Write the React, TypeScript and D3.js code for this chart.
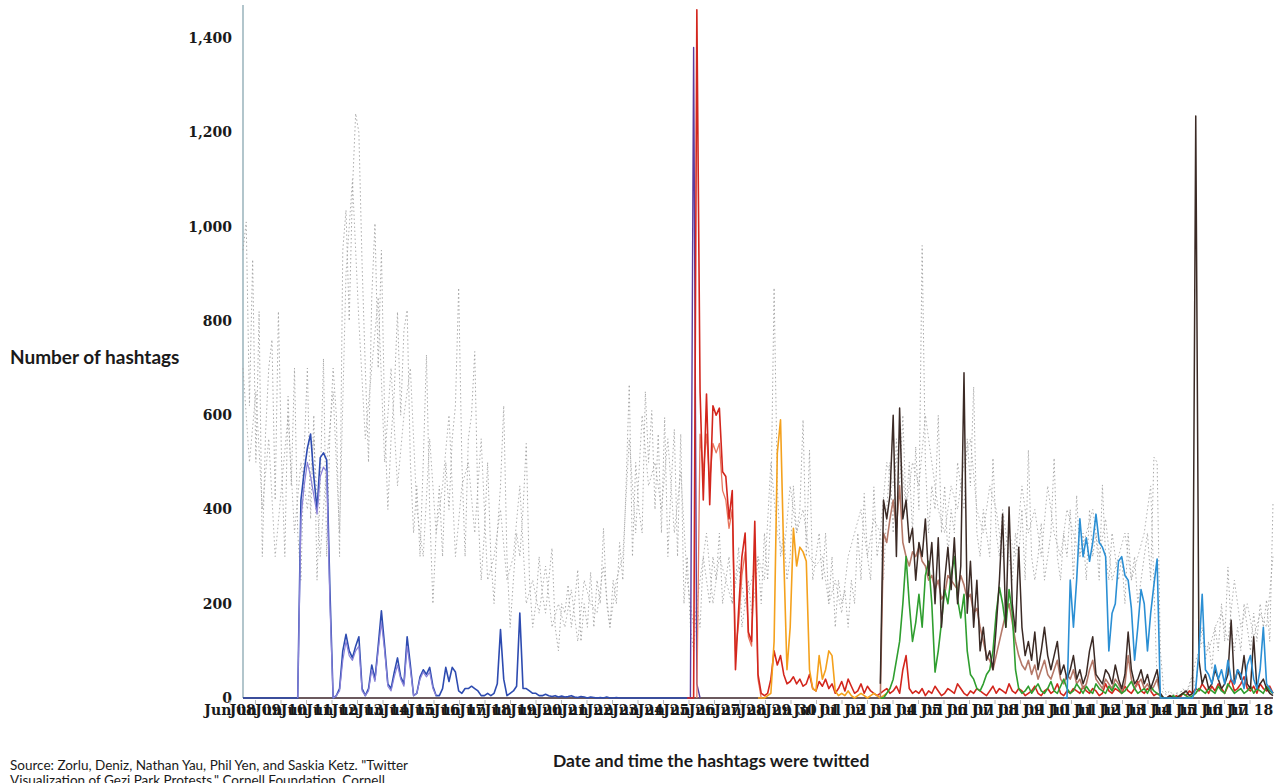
import React from "react";
import * as d3 from "d3";

const W = 1281;
const H = 783;

// x positions are 3-hour steps from Jun 08 00:00 (0) to Jul 18 00:00 (320)
const STEPS = 320;

const dayLabels = [
  "Jun 08", "Jun 09", "Jun 10", "Jun 11", "Jun 12", "Jun 13", "Jun 14", "Jun 15",
  "Jun 16", "Jun 17", "Jun 18", "Jun 19", "Jun 20", "Jun 21", "Jun 22", "Jun 23",
  "Jun 24", "Jun 25", "Jun 26", "Jun 27", "Jun 28", "Jun 29", "Jun 30", "Jul 01",
  "Jul 02", "Jul 03", "Jul 04", "Jul 05", "Jul 06", "Jul 07", "Jul 08", "Jul 09",
  "Jul 10", "Jul 11", "Jul 12", "Jul 13", "Jul 14", "Jul 15", "Jul 16", "Jul 17", "Jul 18",
];

const yTicks = [0, 200, 400, 600, 800, 1000, 1200, 1400];

// background hashtags (grey dotted), 3-hour steps
const grayA = [
  950, 1010, 620, 930, 500, 820, 300, 560, 700, 760,
  420, 820, 500, 300, 640, 450, 700, 350, 250, 520,
  700, 380, 600, 250, 450, 720, 300, 560, 700, 600,
  300, 950, 1035, 800, 1078, 1240, 1200, 920, 700, 500,
  850, 1007, 700, 950, 600, 400, 550, 650, 819, 600,
  780, 823, 500, 350, 450, 300, 500, 728, 400, 200,
  350, 450, 300, 500, 400, 550, 620, 870, 500, 300,
  550, 600, 735, 400, 250, 350, 500, 300, 200, 350,
  450, 620, 300, 150, 250, 350, 300, 400, 540, 250,
  150, 200, 300, 220, 180, 250, 318, 150, 100, 200,
  180, 240, 150, 200, 272, 120, 200, 150, 267, 150,
  250, 200, 360, 200, 150, 250, 200, 330, 250, 450,
  665, 300, 500, 400, 350, 650, 500, 610, 400, 560,
  350, 595, 300, 450, 570, 300, 560, 200, 300, 150,
  100, 200, 150, 300, 250, 200, 300, 250, 350, 200,
  250, 300, 200, 250, 320, 150, 200, 250, 180, 220,
  300, 200, 350, 250, 400, 870, 450, 300, 350, 250,
  300, 450, 350, 400, 590, 300, 526, 250, 300, 350,
  250, 350, 200, 300, 150, 250, 200, 229, 150, 250,
  200, 350, 250, 434, 300, 250, 448, 300, 350, 250,
  400, 500, 350, 550, 450, 600, 400, 500, 350, 533,
  400, 960, 500, 350, 450, 400, 600, 350, 450, 300,
  400, 350, 500, 450, 400, 550, 450, 660, 350, 300,
  400, 350, 300, 509, 350, 300, 400, 350, 300, 250,
  350, 300, 400, 250, 526, 300, 250, 300, 371, 250,
  300, 350, 509, 300, 250, 350, 300, 400, 250, 430,
  300, 350, 250, 400, 300, 350, 250, 452, 300, 250,
  350, 300, 250, 300, 200, 350, 250, 300, 200, 250,
  300, 350, 250, 511, 500, 100, 20, 10, 15, 5,
  10, 5, 20, 10, 30, 50, 20, 100, 150, 80,
  120, 60, 150, 100, 200, 120, 278, 150, 100, 150,
  100, 200, 150, 100, 180, 120, 200, 150, 208, 120,
  413,
];

// second grey series, 6-hour steps
const grayB = [
  700, 500, 650, 400, 550, 300, 450, 600, 350, 500,
  400, 550, 300, 500, 650, 350, 900, 1100, 800, 550,
  700, 850, 500, 700, 450, 600, 700, 400, 300, 550,
  350, 450, 600, 300, 450, 500, 350, 550, 250, 300,
  400, 250, 300, 450, 200, 250, 180, 280, 150, 200,
  150, 230, 120, 250, 200, 180, 280, 150, 250, 300,
  550, 350, 600, 450, 500, 400, 550, 350, 480, 250,
  150, 250, 350, 200, 300, 250, 200, 280, 200, 250,
  300, 250, 500, 350, 300, 450, 350, 400, 300, 280,
  300, 200, 250, 180, 300, 350, 400, 300, 380, 350,
  500, 450, 550, 400, 500, 450, 600, 500, 400, 350,
  450, 400, 500, 550, 400, 350, 450, 400, 300, 350,
  300, 450, 350, 400, 300, 450, 350, 300, 400, 350,
  300, 350, 400, 300, 380, 250, 300, 350, 250, 300,
  350, 450, 30, 10, 5, 10, 15, 20, 80, 120,
  100, 150, 180, 120, 250, 150, 200, 130, 180, 150,
  300,
];

const blueStart = 0;
const blueVals = [
  0, 0, 0, 0, 0, 0, 0, 0, 0, 0,
  0, 0, 0, 0, 0, 0, 0, 0,
  420, 480, 530, 560, 470, 400, 510, 520, 505, 230, 0,
  5, 20, 100, 135, 100, 85, 110, 130, 20, 5, 20,
  70, 40, 110, 185, 110, 30, 20, 55, 85, 45,
  30, 130, 70, 5, 10, 45, 60, 50, 65, 25,
  5, 5, 20, 65, 35, 65, 55, 15, 10, 20,
  20, 25, 20, 15, 5, 5, 10, 5, 10, 30,
  145, 40, 5, 10, 15, 25, 180, 20, 20, 15,
  10, 10, 5, 5, 8, 5, 3, 5, 2, 4,
  2, 3, 5, 2, 1, 3, 2, 0, 2, 1,
  0, 1, 0, 2, 0, 0, 1, 0, 0, 0,
  0, 0, 0, 0, 0, 0, 0, 0, 0, 0,
  0, 0, 0, 0, 0, 0, 0, 0, 0, 0, 0,
];

const lavenderStart = 17;
const lavenderVals = [
  0, 380, 450, 500, 470, 430, 390, 470, 490, 480,
  200, 0, 5, 15, 80, 120, 90, 80, 100, 110,
  15, 5, 15, 60, 35, 100, 160, 100, 25, 15,
  45, 70, 40, 25, 110, 60, 5, 10, 40, 55,
  45, 55, 20, 5,
];

const purpleStart = 138;
const purpleVals = [0, 0, 1380, 30, 0];

const salmonStart = 141;
const salmonVals = [
  0, 560, 480, 560, 460, 540, 520, 540, 440, 420,
  360, 400, 100, 160, 260, 310, 130, 110, 320, 40, 0,
];

const redStart = 138;
const redVals = [
  0, 0, 0, 1460, 650, 420, 645, 410, 620, 600,
  615, 480, 470, 380, 440, 60, 190, 300, 350, 140,
  120, 375, 50, 10, 5, 10, 40, 100, 70, 90,
  50, 30, 35, 45, 30, 40, 25, 30, 50, 20,
  15, 35, 25, 40, 20, 30, 10, 20, 35, 15,
  40, 25, 10, 15, 30, 10, 25, 15, 10, 5,
  10, 15, 20, 10, 15, 25, 10, 60, 90, 20,
  10, 15, 10, 20, 5, 15, 10, 25, 15, 5,
  10, 20, 15, 10, 30, 20, 10, 5, 15, 10,
  20, 15, 10, 5, 15, 25, 10, 20, 15, 10,
  30, 15, 10, 20, 15, 5, 10, 15, 25, 10,
  5, 15, 20, 10, 15, 30, 10, 5, 15, 10,
  20, 15, 10, 25, 15, 10, 20, 15, 5, 10,
  30, 15, 10, 20, 15, 10, 25, 15, 10, 20,
  35, 15, 10, 20, 15, 5, 10, 5, 0, 0,
  5, 0, 5, 0, 10, 5, 15, 10, 20, 15,
  30, 20, 10, 25, 15, 30, 20, 10, 25, 40,
  15, 20, 30, 45, 20, 15, 25, 10, 30, 20,
  15, 25, 10,
];

const orangeStart = 160;
const orangeVals = [
  0, 0, 0, 5, 10, 120, 520, 590, 300, 60,
  150, 360, 280, 320, 310, 290, 60, 20, 15, 90,
  40, 60, 100, 90, 15, 5, 10, 5, 15, 5,
  0, 5, 10, 5, 0, 5, 10, 5, 0, 5, 10,
];

const roseStart = 198;
const roseVals = [
  0, 350, 330, 380, 420, 360, 450, 330, 300, 280,
  310, 300, 320, 290, 280, 250, 260, 230, 250, 210,
  220, 260, 250, 240, 230, 260, 240, 210, 220, 180,
  190, 150, 120, 90, 80, 60, 90, 120, 150, 180,
  200, 160, 120, 90, 70, 60, 80, 50, 70, 40,
  60, 80, 50, 40, 60, 80, 40, 30, 50, 40,
  60, 30, 40, 20, 30, 60, 80, 40, 30, 20,
  40, 30, 20, 40, 30, 15, 30, 90, 40, 20,
  30, 40, 20, 30, 15, 25, 40, 5, 0,
];

const greenStart = 198;
const greenVals = [
  0, 0, 10, 20, 40, 80, 120, 200, 300, 200,
  120, 160, 220, 150, 260, 290, 200, 55, 100, 160,
  230, 200, 260, 300, 210, 170, 220, 100, 50, 40,
  20, 15, 30, 50, 60, 100, 180, 235, 200, 150,
  230, 180, 60, 20, 10, 15, 25, 10, 20, 30,
  15, 10, 20, 35, 15, 10, 25, 40, 20, 10,
  15, 30, 20, 10, 25, 15, 10, 30, 20, 15,
  10, 25, 15, 30, 20, 10, 15, 25, 35, 20,
  10, 15, 20, 10, 25, 15, 10, 5, 0, 0,
  0, 5, 0, 5, 10, 5, 0, 5, 10, 20,
  15, 10, 20, 15, 10, 25, 15, 10, 30, 20,
  10, 15, 20, 10, 15, 25, 10, 20, 15, 10,
  25, 15, 10,
];

const brownStart = 198;
const brownVals = [
  30, 420, 380, 430, 600, 300, 615, 380, 420, 330,
  360, 250, 330, 300, 380, 260, 330, 200, 340, 150,
  250, 320, 230, 340, 200, 280, 690, 180, 290, 150,
  250, 100, 150, 80, 100, 60, 150, 250, 390, 150,
  405, 200, 140, 320, 150, 90, 120, 80, 140, 60,
  100, 150, 90, 60, 90, 120, 50, 70, 40, 60,
  90, 40, 60, 30, 50, 100, 130, 50, 40, 30,
  60, 50, 30, 70, 40, 20, 50, 140, 60, 30,
  40, 60, 30, 50, 20, 40, 60, 10, 0, 0,
  5, 0, 0, 5, 10, 15, 5, 10, 1235, 80,
  30, 50, 20, 30, 60, 40, 20, 30, 50, 165,
  30, 60, 40, 90, 30, 20, 130, 20, 30, 40,
  20, 10, 5,
];

const skyStart = 255;
const skyVals = [
  0, 0, 250, 150, 250, 380, 300, 340, 290, 330,
  390, 330, 320, 300, 100, 180, 200, 290, 300, 260,
  250, 190, 80, 150, 230, 200, 100, 180, 240, 295,
  0, 0, 0, 0, 0, 0, 0, 0, 0, 0,
  0, 20, 100, 220, 60, 50, 30, 70, 40, 60,
  30, 80, 40, 30, 60, 50, 20, 70, 90, 40,
  20, 60, 150, 30, 20, 10,
];

const series = [
  { values: grayB, start: 0, step: 2, color: "#a8a8a8", width: 0.9, dash: "1.5,2.5" },
  { values: grayA, start: 0, step: 1, color: "#a0a0a0", width: 0.9, dash: "1.5,2.5" },
  { values: blueVals, start: blueStart, step: 1, color: "#2d4bb0", width: 1.6 },
  { values: lavenderVals, start: lavenderStart, step: 1, color: "#8a82d8", width: 1.2 },
  { values: purpleVals, start: purpleStart, step: 1, color: "#5b3c9e", width: 1.4 },
  { values: salmonVals, start: salmonStart, step: 1, color: "#e8765e", width: 1.3 },
  { values: redVals, start: redStart, step: 1, color: "#d3261d", width: 1.6 },
  { values: orangeVals, start: orangeStart, step: 1, color: "#f4a11d", width: 1.6 },
  { values: roseVals, start: roseStart, step: 1, color: "#b47868", width: 1.6 },
  { values: greenVals, start: greenStart, step: 1, color: "#2f9e2f", width: 1.6 },
  { values: brownVals, start: brownStart, step: 1, color: "#3b2a25", width: 1.5 },
  { values: skyVals, start: skyStart, step: 1, color: "#2b8fd4", width: 1.6 },
];

const serif = "'DejaVu Serif', serif";
const sans = "Lato, 'Open Sans', sans-serif";

export default function App() {
  const x = d3.scaleLinear().domain([0, STEPS]).range([243, 1273]);
  const y = d3.scaleLinear().domain([0, 1466]).range([698, 7]);
  const xl = d3.scalePoint<string>().domain(dayLabels).range([230, 1250]);
  const fmt = d3.format(",");

  const paths = series.map((s) =>
    d3
      .line<number>()
      .x((d, k) => x(s.start + k * s.step))
      .y((d) => y(d))(s.values)
  );

  return (
    <div style={{ position: "absolute", left: 0, top: 0 }}>
      <svg width={W} height={H} style={{ display: "block", background: "#fff" }}>
        {/* y axis */}
        <line x1={243} x2={243} y1={y(0)} y2={5} stroke="#7f9faa" strokeWidth={1.2} />
        {yTicks.map((t) => (
          <text
            key={t}
            x={232}
            y={y(t)}
            textAnchor="end"
            dominantBaseline="central"
            fontFamily={serif}
            fontWeight="bold"
            fontSize={14}
            fill="#1a1a1a"
          >
            {fmt(t)}
          </text>
        ))}

        {/* x axis */}
        <line x1={x(0)} x2={x(STEPS)} y1={y(0)} y2={y(0)} stroke="#3a2228" strokeWidth={1.6} />
        {dayLabels.map((d) => (
          <line key={"t" + d} x1={xl(d)} x2={xl(d)} y1={y(0) + 2} y2={y(0) + 6} stroke="#bbb" />
        ))}

        {series.map((s, k) => (
          <path
            key={k}
            d={paths[k] || ""}
            fill="none"
            stroke={s.color}
            strokeWidth={s.width}
            strokeDasharray={s.dash}
            strokeLinejoin="round"
          />
        ))}

        {dayLabels.map((d) => (
          <text
            key={d}
            x={xl(d)}
            y={715}
            textAnchor="middle"
            fontFamily={serif}
            fontWeight="bold"
            fontSize={14}
            fill="#1a1a1a"
          >
            {d}
          </text>
        ))}

        <text x={10} y={364} fontFamily={sans} fontWeight="bold" fontSize={19} fill="#1a1a1a">
          Number of hashtags
        </text>
        <text x={553} y={767} fontFamily={sans} fontWeight="bold" fontSize={17.5} fill="#1a1a1a">
          Date and time the hashtags were twitted
        </text>
        <text x={10} y={770} fontFamily={sans} fontSize={13.5} fill="#1a1a1a">
          Source: Zorlu, Deniz, Nathan Yau, Phil Yen, and Saskia Ketz. "Twitter
        </text>
        <text x={10} y={785} fontFamily={sans} fontSize={13.5} fill="#1a1a1a">
          Visualization of Gezi Park Protests." Cornell Foundation, Cornell
        </text>
      </svg>
    </div>
  );
}
